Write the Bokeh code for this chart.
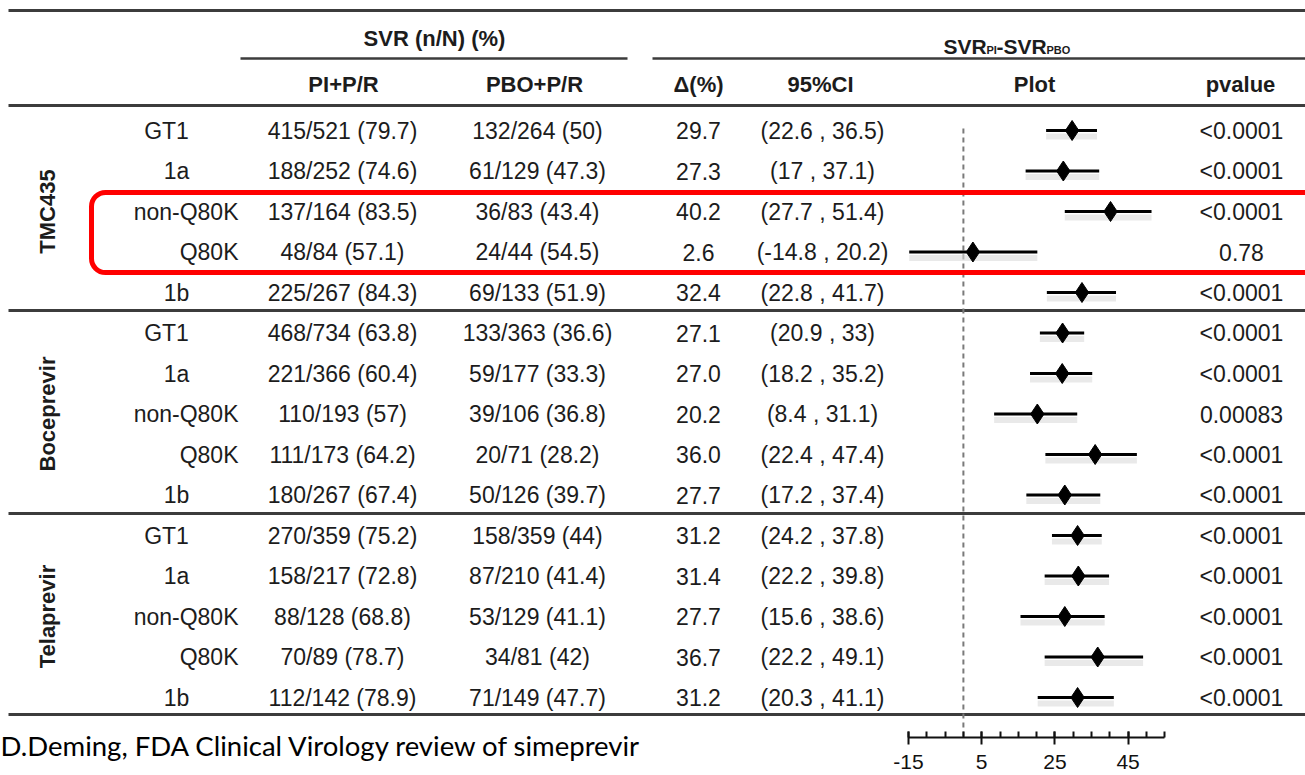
import numpy as np
from bokeh.plotting import figure
from bokeh.models import Range1d, LinearAxis, FixedTicker, ColumnDataSource, BoxAnnotation
from bokeh.core.properties import value
from bokeh.embed import file_html
from bokeh.resources import INLINE

# ---------------- data ----------------
groups = ["TMC435", "Boceprevir", "Telaprevir"]
subgroups = ["GT1", "1a", "non-Q80K", "Q80K", "1b"]
pi_n = [415, 188, 137, 48, 225, 468, 221, 110, 111, 180, 270, 158, 88, 70, 112]
pi_N = [521, 252, 164, 84, 267, 734, 366, 193, 173, 267, 359, 217, 128, 89, 142]
pi_pct = [79.7, 74.6, 83.5, 57.1, 84.3, 63.8, 60.4, 57, 64.2, 67.4, 75.2, 72.8, 68.8, 78.7, 78.9]
pbo_n = [132, 61, 36, 24, 69, 133, 59, 39, 20, 50, 158, 87, 53, 34, 71]
pbo_N = [264, 129, 83, 44, 133, 363, 177, 106, 71, 126, 359, 210, 129, 81, 149]
pbo_pct = [50, 47.3, 43.4, 54.5, 51.9, 36.6, 33.3, 36.8, 28.2, 39.7, 44, 41.4, 41.1, 42, 47.7]
delta = [29.7, 27.3, 40.2, 2.6, 32.4, 27.1, 27.0, 20.2, 36.0, 27.7, 31.2, 31.4, 27.7, 36.7, 31.2]
ci_lo = [22.6, 17, 27.7, -14.8, 22.8, 20.9, 18.2, 8.4, 22.4, 17.2, 24.2, 22.2, 15.6, 22.2, 20.3]
ci_hi = [36.5, 37.1, 51.4, 20.2, 41.7, 33, 35.2, 31.1, 47.4, 37.4, 37.8, 39.8, 38.6, 49.1, 41.1]
pvalues = ["<0.0001", "<0.0001", "<0.0001", "0.78", "<0.0001",
           "<0.0001", "<0.0001", "0.00083", "<0.0001", "<0.0001",
           "<0.0001", "<0.0001", "<0.0001", "<0.0001", "<0.0001"]
axis_ticks = [-15, 5, 25, 45]
axis_minor = list(range(-15, 60, 5))
footnote = "D.Deming, FDA Clinical Virology review of simeprevir"

# ---------------- layout constants (page pixels) ----------------
LEFT, RIGHT, TOP, BOTTOM = 0, 1305, 0, 775
K = 3.66          # px per forest unit
FX0 = 908         # page x of -15
Y0, DY = 130, 40.5  # first row centre, row pitch
FONT = "Liberation Sans"
TXT = "#1c1c1c"
LINE = "#3c3c3c"
AX_Y = 737

p = figure(width=RIGHT - LEFT, height=BOTTOM - TOP, output_backend="svg",
           toolbar_location=None, x_range=Range1d(LEFT, RIGHT), y_range=Range1d(BOTTOM, TOP),
           x_axis_location=None, y_axis_location=None, min_border=0,
           outline_line_color=None, background_fill_color="white")
p.xgrid.grid_line_color = None
p.ygrid.grid_line_color = None
p.extra_x_ranges = {"forest": Range1d(-15 - (FX0 - LEFT) / K, -15 + (RIGHT - FX0) / K)}
p.extra_y_ranges = {"rows": Range1d((BOTTOM - Y0) / DY, (TOP - Y0) / DY)}

n = len(delta)
rows = list(range(n))
sub = subgroups * len(groups)
src = ColumnDataSource(dict(
    row=rows,
    shadow=[r + 0.15 for r in rows],
    sub=sub,
    pi=[f"{a}/{b} ({c:g})" for a, b, c in zip(pi_n, pi_N, pi_pct)],
    pbo=[f"{a}/{b} ({c:g})" for a, b, c in zip(pbo_n, pbo_N, pbo_pct)],
    delta=delta,
    dtxt=[f"{d:.1f}" for d in delta],
    lo=ci_lo, hi=ci_hi,
    ci=[f"({a:g} , {b:g})" for a, b in zip(ci_lo, ci_hi)],
    pv=pvalues,
))

# ---------------- table rules ----------------
def hline(y, x0=8, x1=RIGHT, w=3):
    p.segment(x0=[x0], x1=[x1], y0=[y], y1=[y], line_color=LINE, line_width=w)

hline(10)
hline(58, 240, 627, 2.5)
hline(58, 652, RIGHT, 2.5)
hline(105)
hline(310)
hline(513)
hline(714)

# ---------------- headers ----------------
hdr = dict(text_font=value(FONT), text_font_style="bold", text_color=TXT,
           text_align="center", text_baseline="middle")
p.text(x=[434], y=[38], text=["SVR (n/N) (%)"], text_font_size="22px", **hdr)
p.text(x=[343, 534, 698, 820, 1034, 1240], y=[84] * 6,
       text=["PI+P/R", "PBO+P/R", "\u0394(%)", "95%CI", "Plot", "pvalue"],
       text_font_size="22px", **hdr)
sv = dict(text_font=value(FONT), text_font_style="bold", text_color=TXT,
          text_align="left", text_baseline="alphabetic")
p.text(x=[943], y=[46], text=["SVR"], text_font_size="21px", **sv)
p.text(x=[986], y=[49], text=["PI"], text_font_size="11px", **sv)
p.text(x=[996], y=[46], text=["-SVR"], text_font_size="21px", **sv)
p.text(x=[1046], y=[49], text=["PBO"], text_font_size="11px", **sv)

# ---------------- group labels ----------------
p.text(x=[47] * len(groups), y=[2 + 5 * g for g in range(len(groups))], text=groups,
       angle=np.pi / 2, text_font=value(FONT), text_font_style="bold",
       text_font_size="22px", text_color=TXT, text_align="center",
       text_baseline="middle", y_range_name="rows")

# ---------------- subgroup labels ----------------
body = dict(text_font=value(FONT), text_font_size="23px", text_color=TXT,
            text_baseline="middle", y_range_name="rows")
idx_r = [i for i, s in enumerate(sub) if s.endswith("Q80K")]
idx_c = [i for i, s in enumerate(sub) if s in ("1a", "1b")]
idx_g = [i for i, s in enumerate(sub) if s == "GT1"]
p.text(x=[238] * len(idx_r), y=idx_r, text=[sub[i] for i in idx_r], text_align="right", **body)
p.text(x=[176] * len(idx_c), y=idx_c, text=[sub[i] for i in idx_c], text_align="center", **body)
p.text(x=[166] * len(idx_g), y=idx_g, text=[sub[i] for i in idx_g], text_align="center", **body)

# ---------------- table columns ----------------
for col, xc in (("pi", 342), ("pbo", 537), ("dtxt", 698), ("ci", 822), ("pv", 1241)):
    p.text(x=xc, y="row", text=col, source=src, text_align="center", **body)

# ---------------- forest plot ----------------
p.segment(x0=[0], x1=[0], y0=[128], y1=[AX_Y], line_color="#7a7a7a", line_width=2,
          line_dash="5 4", x_range_name="forest")
p.segment(x0="lo", x1="hi", y0="shadow", y1="shadow", source=src, line_color="#dadada",
          line_width=6, line_alpha=0.6, x_range_name="forest", y_range_name="rows")
p.segment(x0="lo", x1="hi", y0="row", y1="row", source=src, line_color="black",
          line_width=3, x_range_name="forest", y_range_name="rows")
p.scatter(x="delta", y="row", source=src, marker="diamond", size=20, color="black",
          x_range_name="forest", y_range_name="rows")

ax = LinearAxis(x_range_name="forest", fixed_location=AX_Y,
                ticker=FixedTicker(ticks=axis_ticks, minor_ticks=axis_minor),
                bounds=(-15, 55))
ax.axis_line_width = 2
ax.axis_line_color = "#111111"
ax.major_tick_line_width = 2
ax.major_tick_line_color = "#111111"
ax.minor_tick_line_width = 2
ax.minor_tick_line_color = "#111111"
ax.major_tick_in = 6
ax.major_tick_out = 7
ax.minor_tick_in = 6
ax.minor_tick_out = 0
ax.major_label_standoff = 10
ax.major_label_text_font = FONT
ax.major_label_text_font_size = "21px"
ax.major_label_text_color = "#111111"
ax.major_label_overrides = {t: str(t) for t in axis_ticks}
p.add_layout(ax, "below")

# ---------------- highlight box & footnote ----------------
p.add_layout(BoxAnnotation(left=91, right=1340, top=192, bottom=272, fill_alpha=0,
                           line_color="#ff0000", line_alpha=1.0, line_width=5,
                           border_radius=14))
p.text(x=[0], y=[745], text=[footnote], text_font=value("Lato"), text_font_size="27.5px",
       text_color="black", text_align="left", text_baseline="middle")

open("out.html", "w").write(file_html(p, INLINE))
